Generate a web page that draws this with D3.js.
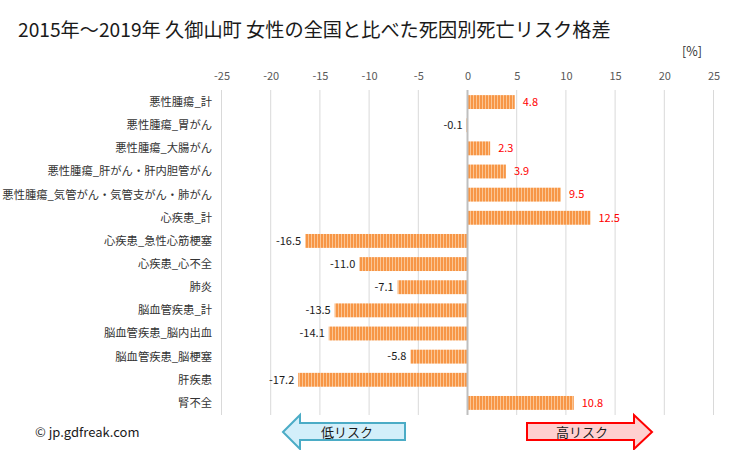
<!DOCTYPE html>
<html><head><meta charset="utf-8">
<script src="https://cdn.jsdelivr.net/npm/d3@7"></script>
<style>
body{margin:0;background:#fff;}
svg text{font-family:"Noto Sans CJK JP","Noto Sans",sans-serif;}
</style></head>
<body><svg id="c" width="729" height="450"></svg>
<script>
const categories = ["悪性腫瘍_計","悪性腫瘍_胃がん","悪性腫瘍_大腸がん","悪性腫瘍_肝がん・肝内胆管がん","悪性腫瘍_気管がん・気管支がん・肺がん","心疾患_計","心疾患_急性心筋梗塞","心疾患_心不全","肺炎","脳血管疾患_計","脳血管疾患_脳内出血","脳血管疾患_脳梗塞","肝疾患","腎不全"];
const values = [4.8,-0.1,2.3,3.9,9.5,12.5,-16.5,-11.0,-7.1,-13.5,-14.1,-5.8,-17.2,10.8];
const tickValues = [-25,-20,-15,-10,-5,0,5,10,15,20,25];
const title = "2015年～2019年 久御山町 女性の全国と比べた死因別死亡リスク格差";

const svg = d3.select("#c");
const x = d3.scaleLinear().domain([-25,25]).range([221.5,713.5]);
const y = d3.scaleBand().domain(categories).range([90.5,414.5]).paddingInner(0.4).paddingOuter(0.2);
const hy = s => s.replace(/\u2212/g,"-");

const defs = svg.append("defs");
const pat = defs.append("pattern").attr("id","stripe").attr("patternUnits","userSpaceOnUse")
  .attr("width",3).attr("height",4);
pat.append("rect").attr("width",3).attr("height",4).attr("fill","#f79646");
pat.append("rect").attr("x",2).attr("width",1).attr("height",4).attr("fill","#fbc593");

svg.append("text").attr("x",18).attr("y",37).attr("font-size",19.2).attr("fill","#1a1a1a").text(title);
svg.append("text").attr("x",702).attr("y",56).attr("text-anchor","end").attr("font-size",12.5).attr("fill","#333").text("[%]");

// grid
svg.append("g").selectAll("line").data(tickValues.filter(d=>d!==0)).join("line")
  .attr("x1",d=>x(d)).attr("x2",d=>x(d)).attr("y1",90).attr("y2",415)
  .attr("stroke","#d9d9d9").attr("stroke-width",1);

// axis labels
const ax = d3.axisTop(x).tickValues(tickValues).tickSize(0).tickPadding(0).tickFormat(d=>hy(d3.format("d")(d)));
const axg = svg.append("g").attr("transform","translate(0,80)").call(ax);
axg.select(".domain").remove();
axg.selectAll("text").attr("font-size",11).attr("fill","#595959").attr("font-family","\"Noto Sans CJK JP\",sans-serif");

// bars
svg.append("g").selectAll("rect").data(values).join("rect")
  .attr("x",(d)=>x(Math.min(0,d)))
  .attr("width",d=>Math.abs(x(d)-x(0)))
  .attr("y",(d,i)=>y(categories[i]))
  .attr("height",y.bandwidth())
  .attr("fill","url(#stripe)");

// zero line
svg.append("line").attr("x1",x(0)).attr("x2",x(0)).attr("y1",90).attr("y2",415)
  .attr("stroke","#bfbfbf").attr("stroke-width",2);

// category labels
svg.append("g").selectAll("text").data(categories).join("text")
  .attr("x",212).attr("y",d=>y(d)+y.bandwidth()/2).attr("dy","0.35em")
  .attr("text-anchor","end").attr("font-size",11.3).attr("fill","#333").text(d=>d);

// value labels
svg.append("g").selectAll("text").data(values).join("text")
  .attr("x",d=>d>=0? x(d)+8 : x(d)-4)
  .attr("y",(d,i)=>y(categories[i])+y.bandwidth()/2).attr("dy","0.35em")
  .attr("text-anchor",d=>d>=0?"start":"end")
  .attr("font-size",11).attr("fill",d=>d>=0?"#ff0000":"#1a1a1a")
  .text(d=>hy(d3.format(".1f")(d)));

// copyright
svg.append("text").attr("x",35).attr("y",437).attr("font-size",13).attr("fill","#1a1a1a").text("© jp.gdfreak.com");

// arrows
const lowPts = [[283,432],[300,415],[300,423],[405,423],[405,440],[300,440],[300,449]];
svg.append("polygon").attr("points",lowPts.map(p=>p.join(",")).join(" "))
  .attr("fill","#d3effa").attr("stroke","#4bacc6").attr("stroke-width",2);
svg.append("text").attr("x",347).attr("y",432).attr("dy","0.35em").attr("text-anchor","middle")
  .attr("font-size",13).attr("fill","#1a1a1a").text("低リスク");
const highPts = [[652,432],[634,415],[634,423],[527,423],[527,440],[634,440],[634,449]];
svg.append("polygon").attr("points",highPts.map(p=>p.join(",")).join(" "))
  .attr("fill","#ffd0d0").attr("stroke","#ff0000").attr("stroke-width",2);
svg.append("text").attr("x",582).attr("y",432).attr("dy","0.35em").attr("text-anchor","middle")
  .attr("font-size",13).attr("fill","#1a1a1a").text("高リスク");
</script></body></html>
